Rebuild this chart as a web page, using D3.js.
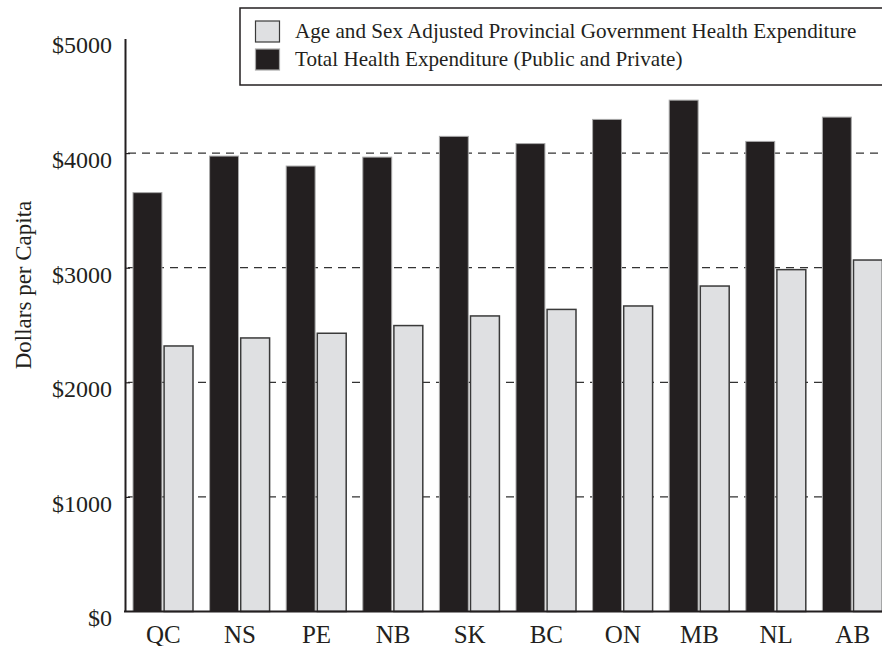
<!DOCTYPE html>
<html>
<head>
<meta charset="utf-8">
<script src="https://cdn.jsdelivr.net/npm/d3@7"></script>
<style>
  html, body { margin: 0; padding: 0; background: #fff; }
  svg { display: block; }
  text { font-family: "Liberation Serif", "Times New Roman", serif; fill: #231f20; }
</style>
</head>
<body>
<svg id="chart" width="882" height="646"></svg>
<script>
// ---- Data ----
const provinces = ["QC", "NS", "PE", "NB", "SK", "BC", "ON", "MB", "NL", "AB"];
const totalExpenditure = [3655, 3974, 3887, 3965, 4146, 4083, 4294, 4462, 4102, 4314];
const adjustedProvincial = [2317, 2387, 2428, 2495, 2579, 2636, 2666, 2840, 2983, 3067];
const yTicks = [0, 1000, 2000, 3000, 4000, 5000];
const gridTicks = [1000, 2000, 3000, 4000];
const seriesNames = ["Age and Sex Adjusted Provincial Government Health Expenditure",
                     "Total Health Expenditure (Public and Private)"];

const svg = d3.select("#chart");
const ink = "#231f20";

const y = d3.scaleLinear().domain([0, 5000]).range([611.5, 38.5]);
const x0 = d3.scaleBand().domain(provinces).range([125, 891]).padding(0);
const x1 = d3.scaleBand().domain(["total", "adjusted"]).range([8, 68]).paddingInner(0.07);

// gridlines
svg.append("g").selectAll("line").data(gridTicks).join("line")
  .attr("x1", 128).attr("x2", 882)
  .attr("y1", d => y(d)).attr("y2", d => y(d))
  .attr("stroke", "#333").attr("stroke-width", 1.2)
  .attr("stroke-dasharray", "8,6");

// bars
const rows = provinces.map((p, i) => ({ p, total: totalExpenditure[i], adjusted: adjustedProvincial[i] }));
const groups = svg.append("g").selectAll("g").data(rows).join("g")
  .attr("transform", d => `translate(${x0(d.p)},0)`);

groups.append("rect")
  .attr("x", x1("total")).attr("width", x1.bandwidth())
  .attr("y", d => y(d.total)).attr("height", d => y(0) - y(d.total))
  .attr("fill", ink).attr("stroke", "#a8a8a8").attr("stroke-width", 1);

groups.append("rect")
  .attr("x", x1("adjusted")).attr("width", x1.bandwidth())
  .attr("y", d => y(d.adjusted)).attr("height", d => y(0) - y(d.adjusted))
  .attr("fill", "#dfe0e2").attr("stroke", "#3a3a3a").attr("stroke-width", 1.5);

// y axis
const yAxis = svg.append("g").attr("transform", "translate(125,0)")
  .call(d3.axisLeft(y).tickValues(yTicks).tickSize(-5).tickSizeOuter(0).tickPadding(13)
    .tickFormat(d => "$" + d));
yAxis.select(".domain").attr("stroke", ink).attr("stroke-width", 2);
yAxis.selectAll(".tick line").attr("stroke", ink).attr("stroke-width", 1.2)
  .attr("display", d => (d === 0 || d === 5000) ? "none" : null);
yAxis.selectAll(".tick text")
  .attr("font-family", "Liberation Serif, serif")
  .attr("font-size", 24).attr("fill", ink).attr("dy", "0.6em");

// x axis
const xAxis = svg.append("g").attr("transform", `translate(0,${y(0)})`)
  .call(d3.axisBottom(x0).tickSize(0).tickPadding(0));
xAxis.select(".domain").remove();
xAxis.append("line").attr("x1", 124).attr("x2", 882).attr("y1", 0).attr("y2", 0)
  .attr("stroke", ink).attr("stroke-width", 2.2);
xAxis.selectAll(".tick").attr("transform", d => `translate(${x0(d) + 38.3},0)`);
xAxis.selectAll(".tick text")
  .attr("font-family", "Liberation Serif, serif")
  .attr("font-size", 25).attr("fill", ink).attr("y", 31).attr("dy", 0);

// y axis title
svg.append("text")
  .attr("transform", "translate(31,285) rotate(-90)")
  .attr("text-anchor", "middle")
  .attr("font-size", 23)
  .text("Dollars per Capita");

// legend
const legend = svg.append("g");
legend.append("rect").attr("x", 240).attr("y", 8).attr("width", 700).attr("height", 77)
  .attr("fill", "#fff").attr("stroke", ink).attr("stroke-width", 1.5);
const legendFills = ["#dfe0e2", ink];
const legendStrokes = ["#3a3a3a", "#a8a8a8"];
const legendRows = legend.selectAll("g.item").data(seriesNames).join("g").attr("class", "item")
  .attr("transform", (d, i) => `translate(0,${i * 28})`);
legendRows.append("rect").attr("x", 255.5).attr("y", 21).attr("width", 24).attr("height", 21)
  .attr("fill", (d, i) => legendFills[i]).attr("stroke", (d, i) => legendStrokes[i]).attr("stroke-width", 1.2);
const lt = legendRows.append("text").attr("x", 295).attr("y", 37.5).attr("font-size", 18).text(d => d);
// fit first legend label width to reference
const w0 = lt.nodes()[0].getComputedTextLength();
const fs = 18 * 562 / w0;
lt.attr("font-size", fs);
</script>
</body>
</html>
